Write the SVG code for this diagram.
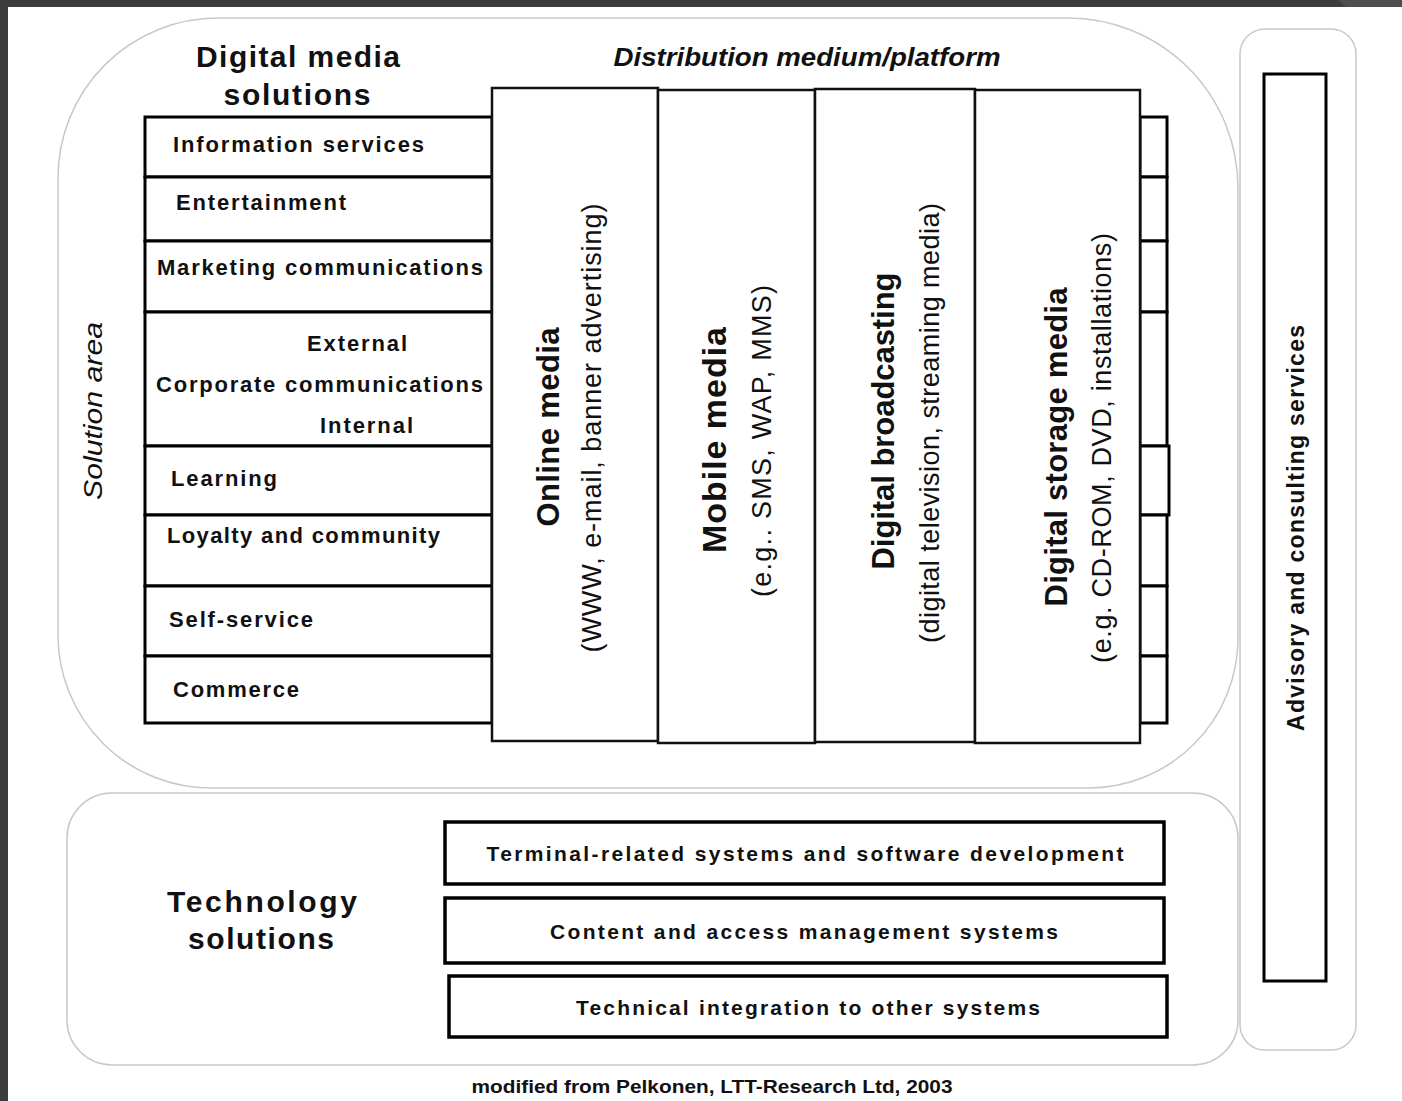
<svg xmlns="http://www.w3.org/2000/svg" width="1402" height="1101" viewBox="0 0 1402 1101">
<style>
.frame{fill:none;stroke:#c8c8c8;stroke-width:1.5}
.row{fill:#fff;stroke:#000;stroke-width:3}
.col{fill:#fff;stroke:#111;stroke-width:2.5}
.box{fill:#fff;stroke:#000;stroke-width:3.5}
.t{font-family:"Liberation Sans",Arial,sans-serif;fill:#111}
.b{font-weight:bold}
.i{font-style:italic}
.rw{font-size:22px;font-weight:bold}
.hd{font-size:30px;font-weight:bold}
.sub{font-size:27px}
.bx{font-size:21px;font-weight:bold}
</style>
<rect x="0" y="0" width="1402" height="1101" fill="#fff"/>
<rect x="0" y="0" width="1402" height="7" fill="#3c3c3c"/>
<rect x="0" y="0" width="8" height="1101" fill="#3c3c3c"/>
<path d="M1338 0 L1402 0 L1402 7 L1346 7 Z" fill="#4e4e4e"/>

<g id="solution-area-frame">
<path class="frame" d="M218 18 L1068 18 A170 170 0 0 1 1238 188 L1238 638 A150 150 0 0 1 1088 788 L211 788 A153 153 0 0 1 58 635 L58 178 A160 160 0 0 1 218 18 Z"/>
<text class="t i" font-size="25" transform="translate(102,411) rotate(-90)" text-anchor="middle" textLength="178" lengthAdjust="spacingAndGlyphs">Solution area</text>
</g>

<g id="technology-frame">
<rect class="frame" x="67" y="793" width="1171" height="272" rx="45" ry="45"/>
<text class="t hd" font-size="31" x="262" y="912" text-anchor="middle" textLength="190" lengthAdjust="spacing">Technology</text>
<text class="t hd" font-size="31" x="261" y="949" text-anchor="middle" textLength="146" lengthAdjust="spacing">solutions</text>
</g>

<g id="advisory-frame">
<rect class="frame" x="1240" y="29" width="116" height="1021" rx="25" ry="25"/>
</g>
<g id="advisory">
<rect x="1264" y="74" width="62" height="907" fill="#fff" stroke="#000" stroke-width="3"/>
<text class="t b" font-size="23" transform="translate(1304,528) rotate(-90)" text-anchor="middle" textLength="406" lengthAdjust="spacing">Advisory and consulting services</text>
</g>

<g id="headers">
<text class="t hd" x="298" y="67" text-anchor="middle" textLength="204" lengthAdjust="spacing">Digital media</text>
<text class="t hd" x="297" y="105" text-anchor="middle" textLength="147" lengthAdjust="spacing">solutions</text>
<text class="t b i" font-size="26" x="807" y="66" text-anchor="middle" textLength="387" lengthAdjust="spacingAndGlyphs">Distribution medium/platform</text>
</g>

<g id="right-cells">
<rect class="row" x="1140" y="117" width="27" height="60"/>
<rect class="row" x="1140" y="177" width="27" height="64"/>
<rect class="row" x="1140" y="241" width="27" height="71"/>
<rect class="row" x="1140" y="312" width="27" height="134"/>
<rect class="row" x="1140" y="446" width="29" height="69"/>
<rect class="row" x="1140" y="515" width="27" height="71"/>
<rect class="row" x="1140" y="586" width="27" height="70"/>
<rect class="row" x="1140" y="656" width="27" height="67"/>
</g>

<g id="information-services">
<rect class="row" x="145" y="117" width="347" height="60"/>
<text class="t rw" x="173" y="152" textLength="251" lengthAdjust="spacing">Information services</text>
</g>
<g id="entertainment">
<rect class="row" x="145" y="177" width="347" height="64"/>
<text class="t rw" x="176" y="210" textLength="170" lengthAdjust="spacing">Entertainment</text>
</g>
<g id="marketing-communications">
<rect class="row" x="145" y="241" width="347" height="71"/>
<text class="t rw" x="157" y="275" textLength="326" lengthAdjust="spacing">Marketing communications</text>
</g>
<g id="corporate-communications">
<rect class="row" x="145" y="312" width="347" height="134"/>
<text class="t rw" x="307" y="351" textLength="100" lengthAdjust="spacing">External</text>
<text class="t rw" x="156" y="392" textLength="327" lengthAdjust="spacing">Corporate communications</text>
<text class="t rw" x="320" y="433" textLength="93" lengthAdjust="spacing">Internal</text>
</g>
<g id="learning">
<rect class="row" x="145" y="446" width="347" height="69"/>
<text class="t rw" x="171" y="486" textLength="106" lengthAdjust="spacing">Learning</text>
</g>
<g id="loyalty-and-community">
<rect class="row" x="145" y="515" width="347" height="71"/>
<text class="t rw" x="167" y="543" textLength="273" lengthAdjust="spacing">Loyalty and community</text>
</g>
<g id="self-service">
<rect class="row" x="145" y="586" width="347" height="70"/>
<text class="t rw" x="169" y="627" textLength="144" lengthAdjust="spacing">Self-service</text>
</g>
<g id="commerce">
<rect class="row" x="145" y="656" width="347" height="67"/>
<text class="t rw" x="173" y="697" textLength="126" lengthAdjust="spacing">Commerce</text>
</g>

<g id="online-media">
<rect class="col" x="492" y="88" width="166" height="653"/>
<text class="t b" font-size="31" transform="translate(559,427) rotate(-90)" text-anchor="middle" textLength="199" lengthAdjust="spacing">Online media</text>
<text class="t sub" transform="translate(601,428) rotate(-90)" text-anchor="middle" textLength="449" lengthAdjust="spacing">(WWW, e-mail, banner advertising)</text>
</g>
<g id="mobile-media">
<rect class="col" x="658" y="90" width="157" height="653"/>
<text class="t b" font-size="34" transform="translate(726,440) rotate(-90)" text-anchor="middle" textLength="226" lengthAdjust="spacing">Mobile media</text>
<text class="t sub" transform="translate(771,441) rotate(-90)" text-anchor="middle" textLength="312" lengthAdjust="spacing">(e.g.. SMS, WAP, MMS)</text>
</g>
<g id="digital-broadcasting">
<rect class="col" x="815" y="89" width="160" height="653"/>
<text class="t b" font-size="31" transform="translate(894,421) rotate(-90)" text-anchor="middle" textLength="297" lengthAdjust="spacing">Digital broadcasting</text>
<text class="t sub" transform="translate(939,423) rotate(-90)" text-anchor="middle" textLength="440" lengthAdjust="spacing">(digital television, streaming media)</text>
</g>
<g id="digital-storage-media">
<rect class="col" x="975" y="90" width="165" height="653"/>
<text class="t b" font-size="31" transform="translate(1067,447) rotate(-90)" text-anchor="middle" textLength="319" lengthAdjust="spacing">Digital storage media</text>
<text class="t sub" transform="translate(1111,448) rotate(-90)" text-anchor="middle" textLength="430" lengthAdjust="spacing">(e.g. CD-ROM, DVD, installations)</text>
</g>

<g id="terminal-related">
<rect class="box" x="445" y="822" width="719" height="62"/>
<text class="t bx" x="805" y="861" text-anchor="middle" textLength="637" lengthAdjust="spacing">Terminal-related systems and software development</text>
</g>
<g id="content-access">
<rect class="box" x="445" y="898" width="719" height="65"/>
<text class="t bx" x="804" y="939" text-anchor="middle" textLength="508" lengthAdjust="spacing">Content and access management systems</text>
</g>
<g id="technical-integration">
<rect class="box" x="449" y="976" width="718" height="61"/>
<text class="t bx" x="808" y="1015" text-anchor="middle" textLength="464" lengthAdjust="spacing">Technical integration to other systems</text>
</g>

<g id="footer">
<text class="t b" font-size="19" x="712" y="1093" text-anchor="middle" textLength="481" lengthAdjust="spacingAndGlyphs">modified  from Pelkonen, LTT-Research Ltd, 2003</text>
</g>
</svg>
